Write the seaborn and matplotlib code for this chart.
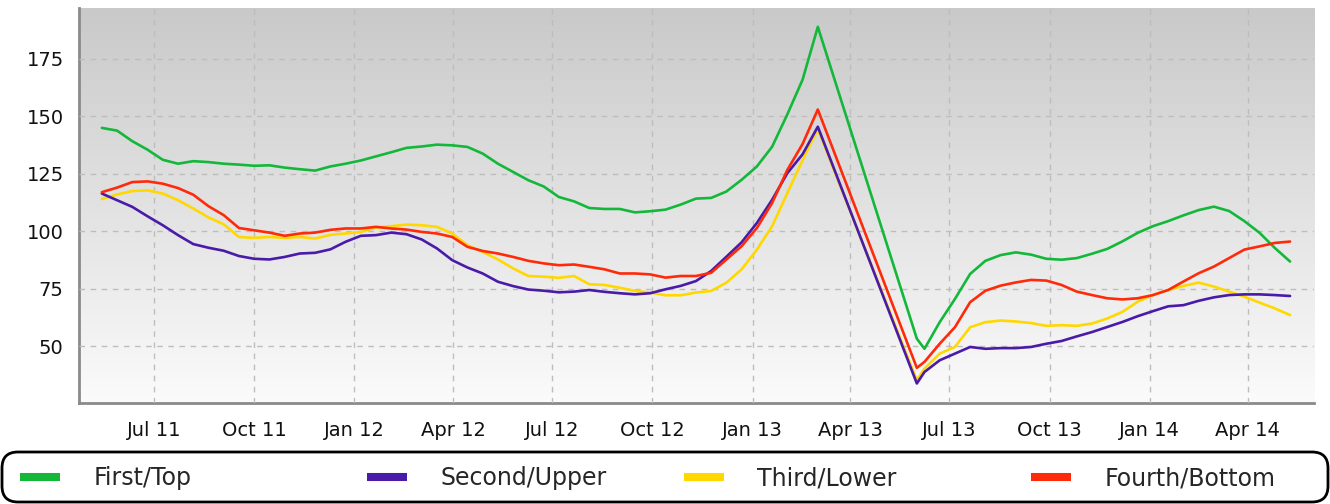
import pandas as pd
import numpy as np
import matplotlib.pyplot as plt
import matplotlib.dates as mdates
import seaborn as sns
from matplotlib.colors import LinearSegmentedColormap
from matplotlib.patches import FancyBboxPatch

# weekly index sampled every two weeks, with the spring 2013 gap
dates_a = pd.date_range('2011-05-14', '2013-03-02', freq='14D')
dates_b = pd.date_range('2013-06-08', '2014-05-10', freq='14D')
dates = list(dates_a) + [pd.Timestamp('2013-06-01')] + list(dates_b)

first_top = [145, 143.8, 139.2, 135.5, 131.1, 129.4, 130.5, 130.1, 129.4, 129,
             128.5, 128.7, 127.7, 127, 126.4, 128.2, 129.4, 130.8, 132.6, 134.4,
             136.3, 136.9, 137.7, 137.4, 136.7, 133.8, 129.4, 125.8, 122.2, 119.5,
             114.9, 113, 110.1, 109.7, 109.7, 108.2, 108.7, 109.4, 111.6, 114.2,
             114.5, 117.3, 122.4, 128.2, 136.8, 150.9, 166, 189,
             53.2, 48.8, 60.4, 70.5, 81.4, 87.1, 89.6, 90.8, 89.8, 88, 87.6, 88.3,
             90.2, 92.3, 95.6, 99.3, 102.2, 104.4, 106.9, 109.2, 110.7, 108.8,
             104.4, 99.3, 92.7, 86.8]
second_upper = [116.4, 113.5, 110.6, 106.5, 102.6, 98.3, 94.4, 92.8, 91.5, 89.2,
                88, 87.7, 88.8, 90.3, 90.6, 92.1, 95.4, 98, 98.3, 99.4,
                98.7, 96.4, 92.5, 87.4, 84.2, 81.6, 78, 76.1, 74.6, 74.1,
                73.4, 73.7, 74.4, 73.6, 73, 72.5, 73, 74.7, 76.2, 78.3,
                82.7, 88.9, 95.2, 103.6, 113.7, 125.3, 133.5, 145.5,
                33.7, 38.7, 43.8, 46.7, 49.6, 48.8, 49.1, 49.1, 49.6, 51, 52.2, 54.2,
                56.1, 58.3, 60.5, 63, 65.2, 67.3, 67.8, 69.7, 71.2, 72.2,
                72.5, 72.5, 72.2, 71.8]
third_lower = [114, 116, 117.5, 117.8, 116.4, 113.5, 109.9, 106, 103, 97.5,
               97.1, 97.5, 97.1, 97.5, 96.8, 98.4, 99, 99.7, 101.6, 102.2,
               102.9, 102.6, 101.9, 99, 93.9, 91, 87.7, 83.8, 80.5, 80.2,
               79.7, 80.5, 76.9, 76.6, 75.4, 74, 73.3, 72.1, 72.1, 73.3,
               74, 77.6, 83.4, 92, 102.2, 116.6, 131, 144.5,
               35.1, 40.2, 46.7, 49.6, 58.2, 60.4, 61.1, 60.7, 60, 58.8, 59.1, 58.8,
               59.8, 62, 64.9, 69.3, 72.2, 74.4, 76.2, 77.6, 75.9, 73.7,
               71.5, 68.9, 66.4, 63.5]
fourth_bottom = [117, 119, 121.4, 121.7, 120.7, 118.8, 115.9, 110.9, 107, 101.4,
                 100.4, 99.4, 98, 99, 99.4, 100.6, 101.2, 101.2, 101.9, 101.2,
                 100.7, 99.7, 99, 97.5, 93.2, 91.4, 90.3, 88.8, 87.1, 86,
                 85.2, 85.5, 84.5, 83.4, 81.6, 81.6, 81.2, 79.8, 80.5, 80.5,
                 81.9, 87.7, 93.5, 101.4, 112.3, 126.7, 138, 153,
                 40.5, 43.1, 51, 58.2, 69.1, 74.1, 76.3, 77.7, 78.8, 78.5, 76.6, 73.7,
                 72.2, 70.8, 70.3, 70.8, 72.2, 74.4, 78.1, 81.7, 84.6, 88.3,
                 92, 93.4, 94.9, 95.5]

series_names = ['First/Top', 'Second/Upper', 'Third/Lower', 'Fourth/Bottom']
series_colors = ['#13b83a', '#4a1aa8', '#ffd800', '#ff2a0a']

df = pd.DataFrame({'date': dates, series_names[0]: first_top, series_names[1]: second_upper,
                   series_names[2]: third_lower, series_names[3]: fourth_bottom})
long_df = df.melt(id_vars='date', var_name='quartile', value_name='value')

sns.set_style('white')
plt.rcParams['font.family'] = ['DejaVu Sans']

W, H = 1330, 504
fig = plt.figure(figsize=(W / 100, H / 100), dpi=100)
ax = fig.add_axes([79 / W, 1 - 403 / H, (1314 - 79) / W, (403 - 8) / H])

# grey-to-white gradient background
grad = LinearSegmentedColormap.from_list('bg', ['#fbfbfb', '#c9c9c9'])
ax.imshow(np.linspace(0, 1, 256).reshape(-1, 1), cmap=grad, origin='lower', aspect='auto',
          extent=[0, 1, 0, 1], transform=ax.transAxes, zorder=0)

sns.lineplot(data=long_df, x='date', y='value', hue='quartile', hue_order=series_names,
             palette=dict(zip(series_names, series_colors)), linewidth=1.9, ax=ax, zorder=3)
ax.lines[1].set_zorder(4)
ax.lines[3].set_zorder(5)

ax.set_xlim(pd.Timestamp('2011-04-23'), pd.Timestamp('2014-06-01'))
ax.set_ylim(25.2, 197.2)
ax.set_yticks([50, 75, 100, 125, 150, 175])
ax.xaxis.set_major_locator(mdates.MonthLocator(bymonth=[1, 4, 7, 10]))
ax.xaxis.set_major_formatter(mdates.DateFormatter('%b %y'))
ax.set_xlabel('')
ax.set_ylabel('')

ax.grid(True, color='#bdbdbd', linestyle=(0, (4, 4)), linewidth=1.0)
ax.set_axisbelow(False)
for gl in ax.get_xgridlines() + ax.get_ygridlines():
    gl.set_zorder(1)

for side in ['top', 'right']:
    ax.spines[side].set_visible(False)
for side in ['left', 'bottom']:
    ax.spines[side].set_color('#8a8a8a')
    ax.spines[side].set_linewidth(2)
ax.tick_params(axis='both', which='major', direction='out', length=6, width=2,
               color='#222222', labelsize=14, labelcolor='#111111')
ax.tick_params(axis='x', pad=7)
ax.tick_params(axis='y', pad=5)

# legend: rounded frame across the bottom, one entry placed per column
handles, labels = ax.get_legend_handles_labels()
ax.get_legend().remove()
box = FancyBboxPatch((2 / W, 2 / H), 1326 / W, 50 / H, transform=fig.transFigure,
                     boxstyle='round,pad=0,rounding_size=0.012', facecolor='white',
                     edgecolor='black', linewidth=2, mutation_aspect=W / H)
fig.patches.append(box)
entry_x = [20, 367, 684, 1031]
for h, lab, x0 in zip(handles, labels, entry_x):
    leg = fig.legend([h], [lab], loc='center left', bbox_to_anchor=(x0 / W, 1 - 478 / H),
                     frameon=False, borderpad=0, borderaxespad=0, fontsize=17,
                     handlelength=1.7, handletextpad=1.4)
    for line in leg.get_lines():
        line.set_linewidth(5.8)
        line.set_solid_capstyle('butt')

fig.savefig('out.png', dpi=100)
